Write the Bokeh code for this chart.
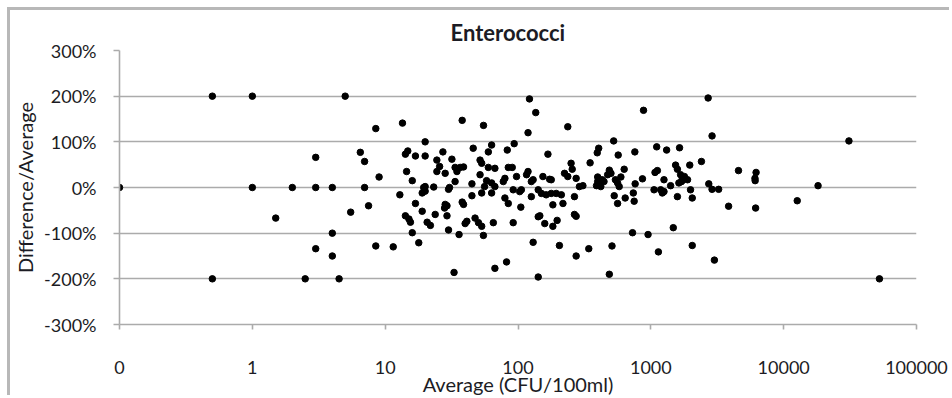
from bokeh.plotting import figure
from bokeh.models import Range1d, FixedTicker, NumeralTickFormatter, PrintfTickFormatter, ColumnDataSource
from bokeh.embed import file_html
from bokeh.resources import INLINE

# Average (CFU/100ml) and Difference/Average (%) for each sample pair
average = [
    0.1, 0.5, 1, 1, 0.5,
    5, 3, 6.5, 7, 2, 3, 4, 7, 1.5, 5.5, 7.5, 4, 3, 4, 2.5, 4.5,
    8.5, 13.5, 38, 20, 46, 14.2, 14.8, 16.9, 20, 27.2, 24.5, 25.7, 24.5, 28.3,
    31.8, 33.6, 36.7, 38.9, 34.7, 14.5, 9, 16, 33.6, 45, 20, 19.5, 23.2, 19,
    20, 12.9, 30, 30.5, 45, 16.9, 28.3, 28, 29.2, 38.9, 38, 19, 23.8, 29.2,
    14.2, 15.1, 15.5, 20.7, 21.9, 41.2, 40, 47.5, 30, 16, 36, 17.9, 8.5, 11.5, 33,
    122, 136, 55, 237, 119, 93.6, 63.3, 59.8, 83, 168, 51.8, 53.3, 59.8, 67,
    84.5, 90.5, 251, 256, 51.8, 58, 63.3, 67, 56, 79.7, 77.5, 97.5, 116, 119,
    126, 130, 154, 173, 178, 224, 237, 274, 290, 92, 106, 103, 63.3, 53.3,
    126, 150, 163, 178, 194, 212, 142, 79.7, 84.5, 105, 183, 218, 266,
    50.4, 53.3, 65.2, 92, 142, 146, 159, 183, 197, 266, 274, 54.9, 130, 205,
    274, 82, 67, 142,
    881, 525, 405, 395, 568, 758, 1107, 1315, 1645, 349, 1536, 1585, 487, 501,
    473, 630, 595, 398, 430, 398, 390, 420, 444, 308, 541, 562, 578, 762, 865,
    1075, 1120, 1256, 1057, 1186, 1220, 1256, 1409, 1626, 1703, 1772, 1585,
    530, 562, 641, 738, 749, 728, 953, 1476, 341, 510, 1140, 487,
    2700, 2890, 1964, 2404, 4570, 6200, 6080, 6100, 1675, 1730, 1790, 1890,
    1990, 2050, 2730, 2890, 3240, 3850, 6150, 2050, 3010,
    31000, 18150, 12650, 52600,
]
diff_pct = [
    0, 200, 200, 0, -200,
    200, 66, 77, 57, 0, 0, 0, 0, -67, -54, -40, -100, -134, -150, -200, -200,
    129, 141, 147, 100, 86, 73, 80, 69, 69, 78, 60, 46, 35, 31,
    62, 44, 44, 45, 35, 35, 23, 15, 13, 8, 2, 0, 1, -12,
    -8, -16, -4, 0, -18, -35, -37, -45, -40, -37, -32, -52, -59, -62,
    -62, -69, -76, -76, -83, -74, -79, -67, -93, -99, -103, -121, -128, -130, -186,
    194, 164, 136, 133, 120, 96, 93, 78, 82, 73, 60, 53, 44, 42,
    44, 44, 53, 40, 28, 15, 10, 2, 2, 20, 13, 24, 28, 35,
    13, 17, 24, 18, 17, 31, 24, 20, 2, -5, -5, -9, -12, -12,
    -20, -13, -16, -13, -13, -16, -5, -23, -35, -43, -38, -35, -20,
    -77, -85, -77, -77, -64, -62, -79, -85, -72, -59, -63, -105, -120, -127,
    -150, -163, -177, -196,
    169, 102, 86, 76, 71, 78, 89, 82, 87, 54, 49, 40, 38, 31,
    28, 40, 23, 23, 17, 13, 4, 2, 13, 4, 17, 10, 2, 8, 19,
    33, 37, 17, -5, -5, -12, -9, 4, 10, 13, 18, -20,
    -18, -35, -23, -12, -30, -99, -103, -88, -134, -128, -141, -190,
    196, 113, 49, 57, 37, 33, 20, 15, 28, 20, 24, 17,
    -5, -23, 8, -4, -4, -41, -45, -127, -159,
    102, 4, -29, -200,
]

x_ticks = [0.1, 1, 10, 100, 1000, 10000, 100000]
y_ticks = [-300, -200, -100, 0, 100, 200, 300]

title_text = "Enterococci"
x_label = "Average (CFU/100ml)"
y_label = "Difference/Average"

FONT = "Lato"
TXT = "#1c1c24"
GRID = "#ababab"

src = ColumnDataSource(data=dict(x=average, y=diff_pct))

p = figure(
    width=942, height=388,
    x_axis_type="log",
    x_range=Range1d(0.1, 100000), y_range=Range1d(-300, 300),
    output_backend="svg", toolbar_location=None,
    min_border_left=106, min_border_right=36, min_border_top=40, min_border_bottom=73,
)
# light grey chart-area frame on the top and left edges
p.styles = {
    "margin-left": "7px", "margin-top": "7px",
    "border-top": "3px solid #b8b8b8", "border-left": "3px solid #b8b8b8",
}
p.outline_line_color = None
p.background_fill_color = "white"
p.border_fill_color = "white"

p.scatter("x", "y", source=src, size=6.5, color="black")

p.title.text = title_text
p.title.align = "left"
p.title.offset = 331
p.title.text_font = FONT
p.title.text_font_size = "22px"
p.title.text_font_style = "bold"
p.title.text_color = TXT

p.xgrid.grid_line_color = None
p.ygrid.grid_line_color = GRID
p.ygrid.grid_line_width = 1.6
p.ygrid.ticker = FixedTicker(ticks=y_ticks)

p.xaxis.ticker = FixedTicker(ticks=x_ticks)
p.xaxis.formatter = NumeralTickFormatter(format="0")
p.yaxis.ticker = FixedTicker(ticks=y_ticks)
p.yaxis.formatter = PrintfTickFormatter(format="%d%%")

for ax in (p.xaxis, p.yaxis):
    ax.axis_line_color = GRID
    ax.axis_line_width = 1.6
    ax.major_tick_line_color = GRID
    ax.major_tick_line_width = 1.6
    ax.minor_tick_line_color = None
    ax.major_tick_in = 0
    ax.major_label_text_font = FONT
    ax.major_label_text_font_size = "18px"
    ax.major_label_text_color = TXT
    ax.axis_label_text_font = FONT
    ax.axis_label_text_font_size = "20px"
    ax.axis_label_text_font_style = "normal"
    ax.axis_label_text_color = TXT

p.xaxis.major_tick_out = 5
p.yaxis.major_tick_out = 6
p.xaxis.major_label_standoff = 31
p.yaxis.major_label_standoff = 17
p.xaxis.axis_label = x_label
p.yaxis.axis_label = y_label
p.xaxis.axis_label_standoff = -5
p.yaxis.axis_label_standoff = 4

open("out.html", "w").write(file_html(p, INLINE))
